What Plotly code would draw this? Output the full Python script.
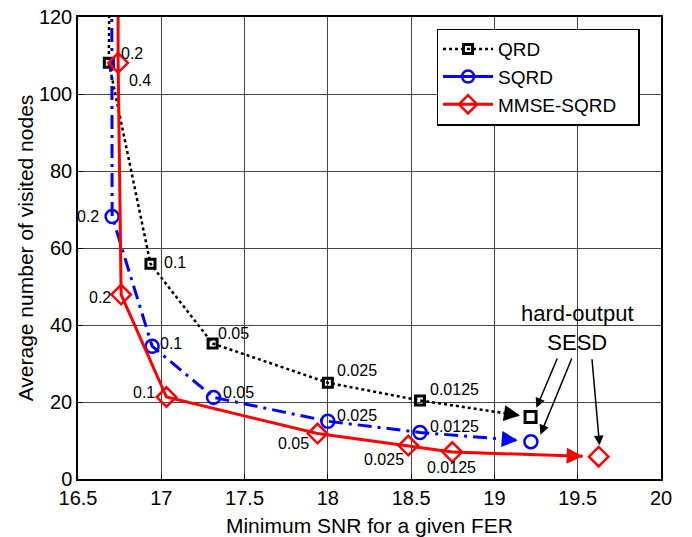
import plotly.graph_objects as go

# ---------------- data ----------------
qrd_x = [16.70, 16.685, 16.935, 17.308, 18.0, 18.553, 19.153]
qrd_y = [200, 108.1, 55.9, 35.2, 25.0, 20.4, 16.5]
sqrd_x = [16.70, 16.705, 16.945, 17.314, 18.0, 18.553, 19.14]
sqrd_y = [200, 68.2, 34.5, 21.2, 15.0, 12.1, 10.05]
mmse_x = [16.74, 16.741, 16.759, 17.031, 17.938, 18.483, 18.747, 19.53]
mmse_y = [200, 108.1, 47.9, 21.3, 11.8, 8.7, 7.0, 5.9]

hard_x = [19.217, 19.219, 19.626]
hard_y = [16.1, 9.7, 5.8]

# FER labels: text, x, y
lab_text = ["0.2", "0.4", "0.2", "0.1", "0.2", "0.05", "0.1", "0.1", "0.05",
            "0.025", "0.0125", "0.025", "0.0125", "0.05", "0.025", "0.0125"]
lab_x = [16.825, 16.875, 16.563, 17.084, 16.635, 17.434, 17.060, 16.894, 17.464,
         18.173, 18.758, 18.173, 18.758, 17.793, 18.337, 18.743]
lab_y = [110.4, 103.5, 68.2, 56.3, 47.2, 37.8, 35.1, 22.4, 22.5,
         28.2, 23.2, 16.5, 13.7, 9.2, 5.0, 3.1]

# hard-output pointer arrows (tail -> head)
ptr_tail_x = [19.381, 19.468, 19.585]
ptr_tail_y = [31.7, 31.7, 31.5]
ptr_head_x = [19.252, 19.276, 19.631]
ptr_head_y = [18.5, 11.5, 8.75]

x_ticks = [16.5, 17, 17.5, 18, 18.5, 19, 19.5, 20]
y_ticks = [0, 20, 40, 60, 80, 100, 120]

FONT = "Liberation Sans, Arial, sans-serif"
PAD = "\u00a0\u00a0\u00a0"

fig = go.Figure()

fig.add_trace(go.Scatter(
    x=qrd_x, y=qrd_y, mode="lines", showlegend=False,
    line=dict(color="black", width=2.5, dash="dot")))
fig.add_trace(go.Scatter(
    x=qrd_x[:-1], y=qrd_y[:-1], mode="markers", showlegend=False,
    marker=dict(symbol="square-open", size=9, color="black", line=dict(width=3))))
fig.add_trace(go.Scatter(
    x=sqrd_x, y=sqrd_y, mode="lines", showlegend=False,
    line=dict(color="blue", width=3, dash="14px,6px,3px,6px")))
fig.add_trace(go.Scatter(
    x=sqrd_x[:-1], y=sqrd_y[:-1], mode="markers", showlegend=False,
    marker=dict(symbol="circle-open", size=13, color="blue", line=dict(width=2.5))))
fig.add_trace(go.Scatter(
    x=mmse_x, y=mmse_y, mode="lines", showlegend=False,
    line=dict(color="red", width=3)))
fig.add_trace(go.Scatter(
    x=mmse_x[:-1], y=mmse_y[:-1], mode="markers", showlegend=False,
    marker=dict(symbol="diamond-open", size=15, color="red", line=dict(width=2.5))))

# hard-output markers
fig.add_trace(go.Scatter(x=[hard_x[0]], y=[hard_y[0]], mode="markers", showlegend=False,
    marker=dict(symbol="square-open", size=11, color="black", line=dict(width=3))))
fig.add_trace(go.Scatter(x=[hard_x[1]], y=[hard_y[1]], mode="markers", showlegend=False,
    marker=dict(symbol="circle-open", size=13, color="blue", line=dict(width=2.5))))
fig.add_trace(go.Scatter(x=[hard_x[2]], y=[hard_y[2]], mode="markers", showlegend=False,
    marker=dict(symbol="diamond-open", size=15, color="red", line=dict(width=2.5))))

# legend entries
fig.add_trace(go.Scatter(x=[None], y=[None], mode="lines+markers", name="QRD" + PAD,
    line=dict(color="black", width=2.5, dash="dot"),
    marker=dict(symbol="square-open", size=9, color="black", line=dict(width=3))))
fig.add_trace(go.Scatter(x=[None], y=[None], mode="lines+markers", name="SQRD" + PAD,
    line=dict(color="blue", width=3),
    marker=dict(symbol="circle-open", size=12, color="blue", line=dict(width=2.5))))
fig.add_trace(go.Scatter(x=[None], y=[None], mode="lines+markers", name="MMSE-SQRD" + PAD,
    line=dict(color="red", width=3),
    marker=dict(symbol="diamond-open", size=14, color="red", line=dict(width=2.5))))

ann = []
for t, x, y in zip(lab_text, lab_x, lab_y):
    ann.append(dict(x=x, y=y, text=t, showarrow=False, xref="x", yref="y",
                    font=dict(family=FONT, size=16, color="black")))

# arrowheads at ends of the series lines
for xs, ys, col in [(qrd_x, qrd_y, "black"), (sqrd_x, sqrd_y, "blue"), (mmse_x, mmse_y, "red")]:
    tx = xs[-1] - (xs[-1] - xs[-2]) * 0.08
    ty = ys[-1] - (ys[-1] - ys[-2]) * 0.08
    ann.append(dict(x=xs[-1], y=ys[-1], ax=tx, ay=ty, axref="x", ayref="y",
                    xref="x", yref="y", text="", showarrow=True,
                    arrowhead=2, arrowsize=1.6, arrowwidth=2, arrowcolor=col))

ann.append(dict(x=19.501, y=39.3, text="hard-output<br>SESD", showarrow=False,
                xref="x", yref="y", font=dict(family=FONT, size=22, color="black")))
for tx, ty, hx, hy in zip(ptr_tail_x, ptr_tail_y, ptr_head_x, ptr_head_y):
    ann.append(dict(x=hx, y=hy, ax=tx, ay=ty, axref="x", ayref="y", xref="x", yref="y",
                    text="", showarrow=True, arrowhead=2, arrowsize=1.3,
                    arrowwidth=1.5, arrowcolor="black"))

fig.update_layout(
    width=692, height=537,
    margin=dict(l=77.5, r=30.5, t=17, b=57.6, autoexpand=False),
    paper_bgcolor="white", plot_bgcolor="white",
    font=dict(family=FONT, size=20, color="black"),
    annotations=ann,
    legend=dict(x=0.615, y=0.975, xanchor="left", yanchor="top",
                bgcolor="white", bordercolor="black", borderwidth=1.5,
                itemwidth=50,
                font=dict(family=FONT, size=19), tracegroupgap=0),
)
fig.update_xaxes(range=[16.5, 20], tickvals=x_ticks, ticktext=[str(v) for v in x_ticks],
                 showgrid=True, gridcolor="#444", gridwidth=1, automargin=False,
                 showline=True, linecolor="black", linewidth=1.5, mirror=True,
                 ticks="inside", ticklen=5, tickcolor="black", zeroline=False,
                 tickfont=dict(family=FONT, size=20),
                 title=dict(text="Minimum SNR for a given FER", standoff=13,
                            font=dict(family=FONT, size=21)))
fig.update_yaxes(range=[0, 120], tickvals=y_ticks,
                 showgrid=True, gridcolor="#444", gridwidth=1, automargin=False,
                 showline=True, linecolor="black", linewidth=1.5, mirror=True,
                 ticks="inside", ticklen=5, tickcolor="black", zeroline=False,
                 tickfont=dict(family=FONT, size=20),
                 title=dict(text="Average number of visited nodes", standoff=0,
                            font=dict(family=FONT, size=21)))

fig.write_html("out.html")
